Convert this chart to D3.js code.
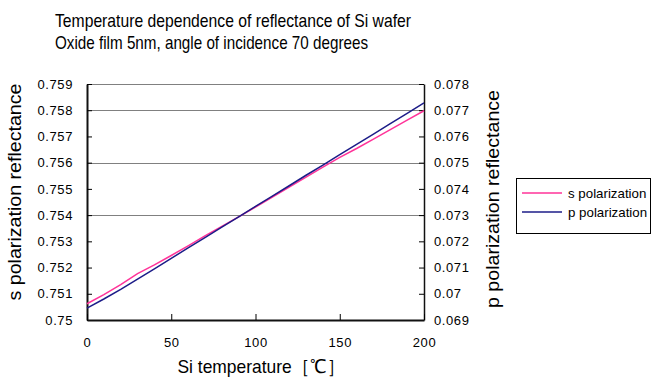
<!DOCTYPE html>
<html><head><meta charset="utf-8">
<script src="https://cdn.jsdelivr.net/npm/d3@7"></script>
<style>html,body{margin:0;padding:0;background:#fff;}svg{display:block;}</style>
</head><body>
<svg id="chart" width="654" height="378"></svg>
<script>
const titleLines = ["Temperature dependence of reflectance of Si wafer", "Oxide film 5nm, angle of incidence 70 degrees"];
const temperatures = [0,10,20,30,40,50,60,70,80,90,100,110,120,130,140,150,160,170,180,190,200];
const sValues = [0.75062,0.75097,0.75135,0.75177,0.75210,0.75246,0.75283,0.75321,0.75357,0.75393,0.75431,0.75469,0.75507,0.75545,0.75583,0.75620,0.75654,0.75690,0.75726,0.75762,0.75798];
const pValues = [0.06945,0.06980,0.07017,0.07056,0.07095,0.07135,0.07175,0.07214,0.07254,0.07293,0.07333,0.07372,0.07412,0.07452,0.07491,0.07531,0.07570,0.07609,0.07649,0.07688,0.07728];
const xTicks = [0,50,100,150,200];
const leftTicks = [0.75,0.751,0.752,0.753,0.754,0.755,0.756,0.757,0.758,0.759];
const rightTicks = [0.069,0.07,0.071,0.072,0.073,0.074,0.075,0.076,0.077,0.078];
const gridValues = [0.754,0.756,0.758,0.759];
const seriesNames = ["s polarization","p polarization"];
const xLabel = "Si temperature［℃］";
const yLeftLabel = "s polarization reflectance";
const yRightLabel = "p polarization reflectance";

const svg = d3.select("#chart");
const font = "'Liberation Sans', Arial, sans-serif";
const L = 87, R = 424, T = 84, B = 320;
const x = d3.scaleLinear().domain([0,200]).range([L,R]);
const yL = d3.scaleLinear().domain([0.75,0.759]).range([B,T]);
const yR = d3.scaleLinear().domain([0.069,0.078]).range([B,T]);
const cS = "#ff3399", cP = "#1c1c88";

// title
svg.selectAll("text.title").data(titleLines).join("text")
  .attr("x",55).attr("y",(d,i)=>27+i*21.5)
  .attr("font-family",font).attr("font-size",18.5)
  .attr("textLength",(d,i)=>i===0?356:313).attr("lengthAdjust","spacingAndGlyphs")
  .attr("fill","#000").text(d=>d);

// gridlines
svg.append("g").selectAll("line").data(gridValues).join("line")
  .attr("x1",L).attr("x2",R).attr("y1",d=>Math.round(yL(d))+0.5).attr("y2",d=>Math.round(yL(d))+0.5)
  .attr("stroke","#808080").attr("stroke-width",1);

// axes
const fmt = d => String(+d.toFixed(3));
const gL = svg.append("g").attr("transform",`translate(${L},0)`)
  .call(d3.axisLeft(yL).tickValues(leftTicks).tickSizeInner(-5).tickSizeOuter(0).tickPadding(14).tickFormat(fmt));
const gR = svg.append("g").attr("transform",`translate(${R},0)`)
  .call(d3.axisRight(yR).tickValues(rightTicks).tickSizeInner(-5).tickSizeOuter(0).tickPadding(10).tickFormat(fmt));
const gB = svg.append("g").attr("transform",`translate(0,${B})`)
  .call(d3.axisBottom(x).tickValues(xTicks).tickSizeInner(-6).tickSizeOuter(0).tickPadding(18).tickFormat(d3.format("d")));
[gL,gR,gB].forEach(g=>{
  g.selectAll("text").attr("font-family",font).attr("font-size",13).attr("letter-spacing",0.6).attr("fill","#000");
  g.selectAll(".tick line").attr("stroke","#000");
});
gL.select(".domain").attr("stroke","#111").attr("stroke-width",2);
gB.select(".domain").attr("stroke","#111").attr("stroke-width",2);
gR.select(".domain").attr("stroke","#111").attr("stroke-width",1.5);

// lines
const lineS = d3.line().x((d,i)=>x(temperatures[i])).y(d=>yL(d));
const lineP = d3.line().x((d,i)=>x(temperatures[i])).y(d=>yR(d));
svg.append("path").datum(sValues).attr("d",lineS).attr("fill","none").attr("stroke",cS).attr("stroke-width",1.5);
svg.append("path").datum(pValues).attr("d",lineP).attr("fill","none").attr("stroke",cP).attr("stroke-width",1.5);

// axis titles
svg.append("text").attr("transform",`translate(21,192) rotate(-90)`).attr("text-anchor","middle")
  .attr("font-family",font).attr("font-size",18.5).attr("textLength",217).attr("lengthAdjust","spacingAndGlyphs").text(yLeftLabel);
svg.append("text").attr("transform",`translate(499,199) rotate(-90)`).attr("text-anchor","middle")
  .attr("font-family",font).attr("font-size",18.5).attr("textLength",218).attr("lengthAdjust","spacingAndGlyphs").text(yRightLabel);
svg.append("text").attr("x",261).attr("y",373).attr("text-anchor","middle")
  .attr("font-family",font).attr("font-size",18.5).attr("textLength",167).attr("lengthAdjust","spacingAndGlyphs").text(xLabel);

// legend
const lg = svg.append("g");
lg.append("rect").attr("x",516.5).attr("y",178.5).attr("width",134).attr("height",55).attr("fill","#fff").attr("stroke","#000");
const colors = [cS,cP];
seriesNames.forEach((n,i)=>{
  const yy = 193 + i*19;
  lg.append("line").attr("x1",522).attr("x2",562).attr("y1",yy).attr("y2",yy).attr("stroke",colors[i]).attr("stroke-width",1.5);
  lg.append("text").attr("x",568).attr("y",yy+4.5).attr("font-family",font).attr("font-size",13.3).text(n);
});
</script>
</body></html>
